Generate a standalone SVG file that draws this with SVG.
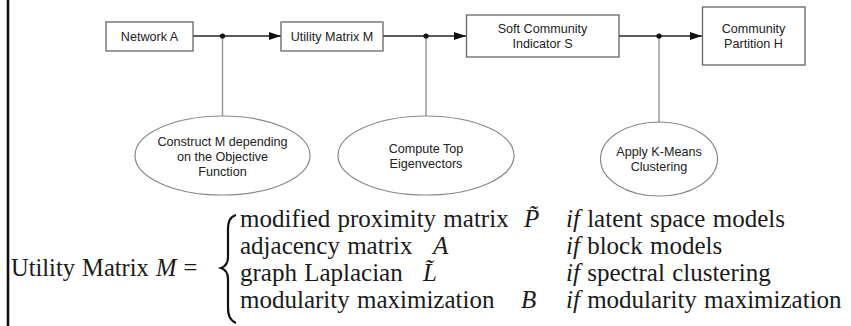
<svg xmlns="http://www.w3.org/2000/svg" width="851" height="326" viewBox="0 0 851 326">
<style>
.box{fill:#fff;stroke:#666;stroke-width:1.3}
.ell{fill:#fff;stroke:#888;stroke-width:1.2}
.lbl{font-family:"Liberation Sans",Arial,sans-serif;font-size:12.6px;fill:#222;text-anchor:middle}
.h{stroke:#222;stroke-width:1.3;fill:none}
.v{stroke:#999;stroke-width:1.5;fill:none}
.dot{fill:#111}
.m{font-family:"Liberation Serif","Times New Roman",serif;font-size:24.5px;fill:#1a1a1a}
.r{font-size:25px;word-spacing:1px}
.i{font-style:italic}
</style>
<defs>
<marker id="arr" markerUnits="userSpaceOnUse" markerWidth="12" markerHeight="8" refX="12" refY="4" orient="auto">
<path d="M0,0 L12,4 L0,8 z" fill="#111"/>
</marker>
</defs>
<rect x="0" y="0" width="851" height="326" fill="#fff"/>
<line x1="8" y1="0" x2="8" y2="326" stroke="#111" stroke-width="2.6"/>

<g id="connectors">
<line class="h" x1="193" y1="36" x2="281" y2="36" marker-end="url(#arr)"/>
<line class="h" x1="383" y1="36" x2="466" y2="36" marker-end="url(#arr)"/>
<line class="h" x1="619" y1="36" x2="702" y2="36" marker-end="url(#arr)"/>
<line class="v" x1="222.5" y1="36" x2="222.5" y2="116"/>
<line class="v" x1="426" y1="36" x2="426" y2="116"/>
<line class="v" x1="659" y1="36" x2="659" y2="122"/>
<circle class="dot" cx="222.5" cy="36" r="2.6"/>
<circle class="dot" cx="426" cy="36" r="2.6"/>
<circle class="dot" cx="659" cy="36" r="2.6"/>
</g>

<g id="network-a">
<rect class="box" x="106" y="22" width="87" height="29"/>
<text class="lbl" x="149.5" y="40.5">Network A</text>
</g>
<g id="utility-matrix">
<rect class="box" x="281" y="22" width="102" height="29"/>
<text class="lbl" x="332" y="40.5">Utility Matrix M</text>
</g>
<g id="soft-community">
<rect class="box" x="466.5" y="15" width="152.5" height="42"/>
<text class="lbl" x="542.5" y="32.5">Soft Community</text>
<text class="lbl" x="542.5" y="47.5">Indicator S</text>
</g>
<g id="community-partition">
<rect class="box" x="702.5" y="7" width="102.5" height="58"/>
<text class="lbl" x="753.5" y="32.5">Community</text>
<text class="lbl" x="753.5" y="47.5">Partition H</text>
</g>
<g id="construct-m">
<ellipse class="ell" cx="222.5" cy="155.5" rx="87.5" ry="39.5"/>
<text class="lbl" x="222.5" y="145.5">Construct M depending</text>
<text class="lbl" x="222.5" y="160.5">on the Objective</text>
<text class="lbl" x="222.5" y="175.5">Function</text>
</g>
<g id="compute-eigenvectors">
<ellipse class="ell" cx="426" cy="155.5" rx="88" ry="39.5"/>
<text class="lbl" x="426" y="153">Compute Top</text>
<text class="lbl" x="426" y="168">Eigenvectors</text>
</g>
<g id="kmeans">
<ellipse class="ell" cx="659" cy="159" rx="58.5" ry="37"/>
<text class="lbl" x="659" y="156">Apply K-Means</text>
<text class="lbl" x="659" y="171">Clustering</text>
</g>

<g id="formula">
<text class="m" x="11" y="276" word-spacing="1">Utility Matrix <tspan class="i">M</tspan> =</text>
<path d="M236,215 C229.5,217 228,222 228,230 L228,257 C228,263 225.5,266.5 221,268 C225.5,269.5 228,273 228,279 L228,307 C228,315 229.5,320 236,323" fill="none" stroke="#111" stroke-width="2.2"/>
<text class="m r" x="240" y="227">modified proximity matrix</text>
<text class="m r i" x="524" y="227">P̃</text>
<text class="m r" x="566" y="227"><tspan class="i">if</tspan> latent space models</text>
<text class="m r" x="240" y="254">adjacency matrix</text>
<text class="m r i" x="433" y="254">A</text>
<text class="m r" x="566" y="254"><tspan class="i">if</tspan> block models</text>
<text class="m r" x="240" y="281">graph Laplacian</text>
<text class="m r i" x="423" y="281">L̃</text>
<text class="m r" x="566" y="281"><tspan class="i">if</tspan> spectral clustering</text>
<text class="m r" x="240" y="308">modularity maximization</text>
<text class="m r i" x="521" y="308">B</text>
<text class="m r" x="566" y="308"><tspan class="i">if</tspan> modularity maximization</text>
</g>
</svg>
